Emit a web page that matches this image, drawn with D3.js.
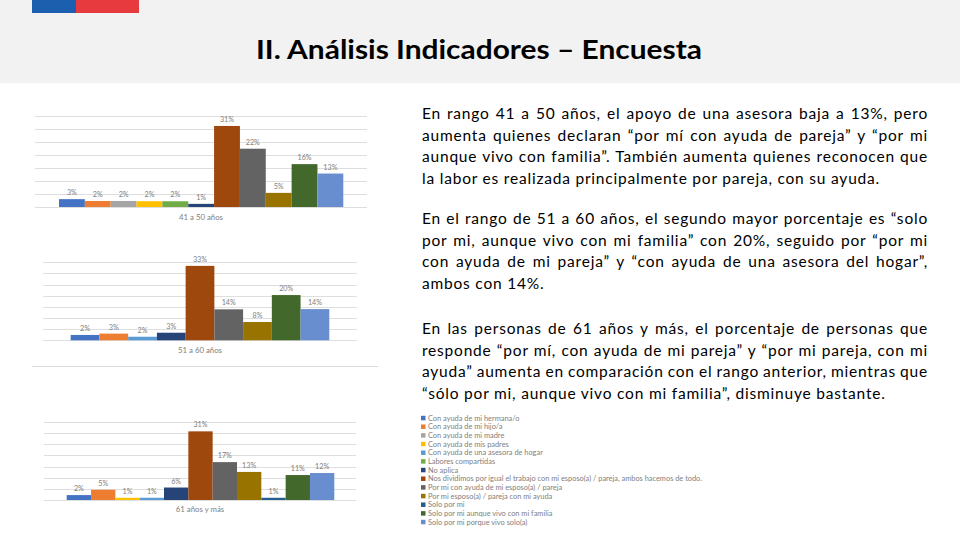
<!DOCTYPE html>
<html>
<head>
<meta charset="utf-8">
<script src="https://cdn.jsdelivr.net/npm/d3@7"></script>
<style>
  body { margin: 0; background: #fff; }
  svg { display: block; font-family: Lato, "Open Sans", sans-serif; }
</style>
</head>
<body>
<div id="slide"></div>
<script>
// legend / series (Excel palette order)
var seriesNames = [
  "Con ayuda de mi hermana/o",
  "Con ayuda de mi hijo/a",
  "Con ayuda de mi madre",
  "Con ayuda de mis padres",
  "Con ayuda de una asesora de hogar",
  "Labores compartidas",
  "No aplica",
  "Nos dividimos por igual el trabajo con mi esposo(a) / pareja, ambos hacemos de todo.",
  "Por mi con ayuda de mi esposo(a) / pareja",
  "Por mi esposo(a) / pareja con mi ayuda",
  "Solo por mi",
  "Solo por mi aunque vivo con mi familia",
  "Solo por mi porque vivo solo(a)"
];
var seriesColors = ["#4472c4", "#ed7d31", "#a5a5a5", "#ffc000", "#5b9bd5", "#70ad47",
  "#264478", "#9e480e", "#636363", "#997300", "#255e91", "#43682b", "#698ed0"];

var yTicks = [0, 5, 10, 15, 20, 25, 30, 35];

// 41 a 50 años
var series41 = [0, 1, 2, 3, 5, 6, 7, 8, 9, 11, 12];
var values41 = [3, 2.3, 2.3, 2.2, 2.2, 1.2, 31, 22.3, 5.4, 16.4, 12.8];
// 51 a 60 años
var series51 = [0, 1, 4, 6, 7, 8, 9, 11, 12];
var values51 = [2.4, 3, 1.6, 3.4, 33.4, 13.9, 8.2, 20.3, 14];
// 61 años y más
var series61 = [0, 1, 3, 4, 6, 7, 8, 9, 10, 11, 12];
var values61 = [2.2, 4.6, 1, 1, 5.6, 30.8, 17, 12.6, 1, 11.2, 12.1];

var ageGroups = ["41 a 50 años", "51 a 60 años", "61 años y más"];

var title = "II. Análisis Indicadores – Encuesta";
var paragraphs = [
  ["En rango 41 a 50 años, el apoyo de una asesora baja a 13%, pero",
   "aumenta quienes declaran “por mí con ayuda de pareja” y “por mi",
   "aunque vivo con familia”. También aumenta quienes reconocen que",
   "la labor es realizada principalmente por pareja, con su ayuda."],
  ["En el rango de 51 a 60 años, el segundo mayor porcentaje es “solo",
   "por mi, aunque vivo con mi familia” con 20%, seguido por “por mi",
   "con ayuda de mi pareja” y “con ayuda de una asesora del hogar”,",
   "ambos con 14%."],
  ["En las personas de 61 años y más, el porcentaje de personas que",
   "responde “por mí, con ayuda de mi pareja” y “por mi pareja, con mi",
   "ayuda” aumenta en comparación con el rango anterior, mientras que",
   "“sólo por mi, aunque vivo con mi familia”, disminuye bastante."]
];

var width = 960, height = 540;

var svg = d3.select("#slide").append("svg")
  .attr("width", width)
  .attr("height", height);

// header
svg.append("rect").attr("x", 0).attr("y", 0).attr("width", width).attr("height", 83)
  .attr("fill", "#f2f2f2");
svg.append("rect").attr("x", 32).attr("y", 0).attr("width", 44).attr("height", 13).attr("fill", "#1b5fae");
svg.append("rect").attr("x", 76).attr("y", 0).attr("width", 63).attr("height", 13).attr("fill", "#e73a3f");

svg.append("text")
  .attr("x", 479).attr("y", 59)
  .attr("text-anchor", "middle")
  .attr("font-weight", "bold")
  .attr("font-size", 27)
  .attr("fill", "#000")
  .attr("textLength", 446)
  .attr("lengthAdjust", "spacingAndGlyphs")
  .text(title);

// charts
var layouts = [
  {gridL: 35, gridR: 367, base: 207, top: 115.5, barL: 59, barR: 343.3, catY: 220},
  {gridL: 43.3, gridR: 356.7, base: 340.3, top: 262.3, barL: 70.7, barR: 329.3, catY: 353},
  {gridL: 44, gridR: 356, base: 500, top: 422, barL: 66.7, barR: 334.3, catY: 511.5}
];
var chartSeries = [series41, series51, series61];
var chartValues = [values41, values51, values61];

var fmt = d3.format(".0f");

layouts.forEach(function(L, i) {
  var g = svg.append("g").attr("class", "chart");
  var yScale = d3.scaleLinear().domain([0, 35]).range([L.base, L.top]);
  var xScale = d3.scaleBand()
    .domain(chartSeries[i])
    .range([L.barL, L.barR])
    .padding(0);

  // gridlines
  g.selectAll(".grid")
    .data(yTicks)
    .enter()
    .append("line")
    .attr("x1", L.gridL).attr("x2", L.gridR)
    .attr("y1", function(d) { return Math.round(yScale(d)) + 0.5; })
    .attr("y2", function(d) { return Math.round(yScale(d)) + 0.5; })
    .attr("stroke", "#dedede")
    .attr("stroke-width", 1);

  var bars = chartSeries[i].map(function(s, j) { return {s: s, v: chartValues[i][j]}; });

  g.selectAll(".bar")
    .data(bars)
    .enter()
    .append("rect")
    .attr("x", function(d) { return xScale(d.s); })
    .attr("width", xScale.bandwidth())
    .attr("y", function(d) { return yScale(d.v); })
    .attr("height", function(d) { return L.base - yScale(d.v); })
    .attr("fill", function(d) { return seriesColors[d.s]; });

  g.selectAll(".lbl")
    .data(bars)
    .enter()
    .append("text")
    .attr("x", function(d) { return xScale(d.s) + xScale.bandwidth() / 2; })
    .attr("y", function(d) { return yScale(d.v) - 4; })
    .attr("text-anchor", "middle")
    .attr("font-size", 7.2)
    .attr("fill", "#808080")
    .text(function(d) { return fmt(d.v) + "%"; });

  g.append("text")
    .attr("x", (L.gridL + L.gridR) / 2)
    .attr("y", L.catY)
    .attr("text-anchor", "middle")
    .attr("font-size", 7.8)
    .attr("fill", "#808080")
    .text(ageGroups[i]);
});

// faint chart frame line between chart 2 and 3
svg.append("line")
  .attr("x1", 32).attr("x2", 378).attr("y1", 366.5).attr("y2", 366.5)
  .attr("stroke", "#d9d9d9");

// legend
var legY = d3.scalePoint().domain(seriesNames).range([418.3, 522.3]);
var leg = svg.append("g").attr("class", "legend");
leg.selectAll("rect")
  .data(seriesNames)
  .enter()
  .append("rect")
  .attr("x", 421)
  .attr("y", function(d) { return legY(d) - 2.5; })
  .attr("width", 4.5).attr("height", 4.5)
  .attr("fill", function(d, i) { return seriesColors[i]; });
leg.selectAll("text")
  .data(seriesNames)
  .enter()
  .append("text")
  .attr("x", 428)
  .attr("y", function(d) { return legY(d) + 2.5; })
  .attr("font-size", 7.4)
  .attr("fill", "#808080")
  .text(function(d) { return d; });

// right text, justified
var textLeft = 422, textRight = 928;
var paraTops = [119, 224, 334];
var lineGap = 21.6;

// size the letters so the free last line of paragraph 1 ends where it does (x ~ 880)
var probe = svg.append("text").attr("font-size", 15.5).text(paragraphs[0][3]);
var probeW = probe.node().getComputedTextLength();
var letterSp = (880 - textLeft - probeW) / paragraphs[0][3].length;
probe.remove();

paragraphs.forEach(function(p, pi) {
  p.forEach(function(line, li) {
    var t = svg.append("text")
      .attr("x", textLeft)
      .attr("y", paraTops[pi] + li * lineGap)
      .attr("font-size", 15.5)
      .attr("letter-spacing", letterSp)
      .attr("fill", "#000")
      .text(line);
    if (li < p.length - 1) {
      var natural = t.node().getComputedTextLength();
      var spaces = line.split(" ").length - 1;
      t.attr("word-spacing", (textRight - textLeft - natural) / spaces);
    }
  });
});
</script>
</body>
</html>
